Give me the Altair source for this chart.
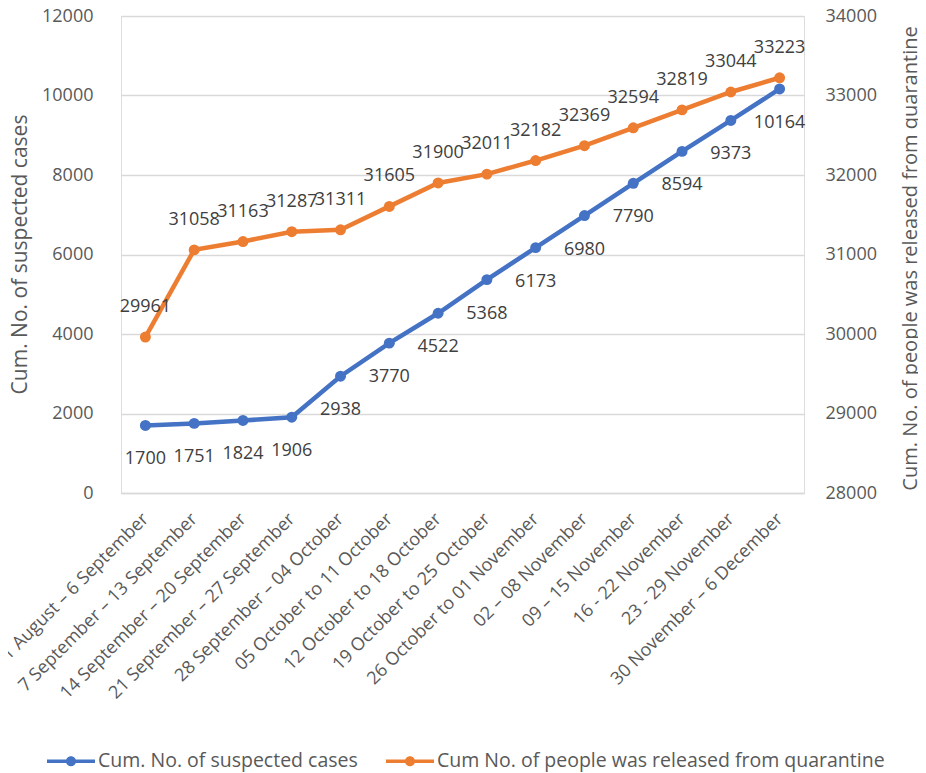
import altair as alt
import pandas as pd

weeks = [
    "31 August – 6 September",
    "7 September – 13 September",
    "14 September – 20 September",
    "21 September – 27 September",
    "28 September – 04 October",
    "05 October to 11 October",
    "12 October to 18 October",
    "19 October to 25 October",
    "26 October to 01 November",
    "02 – 08 November",
    "09 – 15 November",
    "16 - 22 November",
    "23 - 29 November",
    "30 November – 6 December",
]
suspected = [1700, 1751, 1824, 1906, 2938, 3770, 4522, 5368, 6173, 6980, 7790, 8594, 9373, 10164]
released = [29961, 31058, 31163, 31287, 31311, 31605, 31900, 32011, 32182, 32369, 32594, 32819, 33044, 33223]

S1 = "Cum. No. of suspected cases"
S2 = "Cum No. of people was released from quarantine"
BLUE = "#4472C4"
ORANGE = "#ED7D31"
FONT = "Open Sans"
AXC = "#595959"

df = pd.DataFrame({"week": weeks, "suspected": suspected, "released": released})

x = alt.X(
    "week:N",
    sort=weeks,
    scale=alt.Scale(type="point", padding=0.5),
    axis=alt.Axis(
        title=None,
        labelAngle=315,
        labelAlign="right",
        labelBaseline="middle",
        labelPadding=23,
        labelOffset=0,
        labelFontSize=18,
        labelColor=AXC,
        labelFont=FONT,
        labelLimit=400,
        ticks=False,
        tickSize=0,
        domainColor="#d9d9d9",
        domainWidth=1.5,
        grid=False,
        labelOverlap=False,
    ),
)

left_axis = alt.Axis(
    title="Cum. No. of suspected cases",
    values=[0, 2000, 4000, 6000, 8000, 10000, 12000],
    format="d",
    grid=True,
    gridColor="#d9d9d9",
    gridWidth=1.5,
    domain=False,
    ticks=False,
    tickSize=0,
    labelPadding=28,
    labelFontSize=18,
    labelColor=AXC,
    labelFont=FONT,
    titleFontSize=21,
    titleFont=FONT,
    titleColor=AXC,
    titleFontWeight="normal",
    titleAngle=270,
    titleX=-101,
    titleY=238,
    titleAlign="center",
    titleBaseline="middle",
)

right_axis = alt.Axis(
    title="Cum. No. of people was released from quarantine",
    orient="right",
    values=[28000, 29000, 30000, 31000, 32000, 33000, 34000],
    format="d",
    grid=False,
    domain=False,
    ticks=False,
    tickSize=0,
    labelPadding=21,
    labelFontSize=18,
    labelColor=AXC,
    labelFont=FONT,
    titleFontSize=20,
    titleFont=FONT,
    titleColor=AXC,
    titleFontWeight="normal",
    titleAngle=270,
    titleX=106,
    titleY=242,
    titleAlign="center",
    titleBaseline="middle",
)

y1 = alt.Y("suspected:Q", scale=alt.Scale(domain=[0, 12000], nice=False), axis=left_axis)
y2 = alt.Y("released:Q", scale=alt.Scale(domain=[28000, 34000], nice=False), axis=right_axis)

legend_path = (
    "M-1,-0.075H1V0.075H-1Z "
    "M0.21,0A0.21,0.21,0,1,1,-0.21,0A0.21,0.21,0,1,1,0.21,0Z"
)

color = alt.Color(
    "series:N",
    scale=alt.Scale(domain=[S1, S2], range=[BLUE, ORANGE]),
    legend=alt.Legend(
        title=None,
        orient="none",
        direction="horizontal",
        legendX=-74,
        legendY=721,
        symbolType=legend_path,
        symbolSize=2304,
        symbolStrokeWidth=0,
        symbolOpacity=1,
        labelFontSize=19.5,
        labelFont=FONT,
        labelColor=AXC,
        labelOffset=3,
        labelLimit=600,
        columnPadding=28,
        padding=0,
    ),
)

base = alt.Chart(df)

blue_line = base.mark_line(color=BLUE, strokeWidth=4.5).encode(x=x, y=y1)
blue_pts = base.transform_calculate(series=f"'{S1}'").mark_circle(size=120, opacity=1).encode(
    x=x, y=y1, color=color
)
blue_txt = base.mark_text(dy=34, fontSize=18, font=FONT, color="#404040").encode(
    x=x, y=y1, text=alt.Text("suspected:Q", format="d")
)

orange_line = base.mark_line(color=ORANGE, strokeWidth=4.5).encode(x=x, y=y2)
orange_pts = base.transform_calculate(series=f"'{S2}'").mark_circle(size=120, opacity=1).encode(
    x=x, y=y2, color=color
)
orange_txt = base.mark_text(dy=-30, fontSize=18, font=FONT, color="#404040").encode(
    x=x, y=y2, text=alt.Text("released:Q", format="d")
)

chart = (
    alt.layer(
        alt.layer(blue_line, blue_pts, blue_txt),
        alt.layer(orange_line, orange_pts, orange_txt),
    )
    .resolve_scale(y="independent")
    .properties(
        width=683,
        height=477,
        autosize=alt.AutoSizeParams(type="none"),
        padding={"left": 113, "top": 8, "right": 114, "bottom": 280},
    )
    .configure_view(stroke=None)
    .configure(background="white")
)

chart.save("out.html", embed_options={"renderer": "svg", "actions": False})
